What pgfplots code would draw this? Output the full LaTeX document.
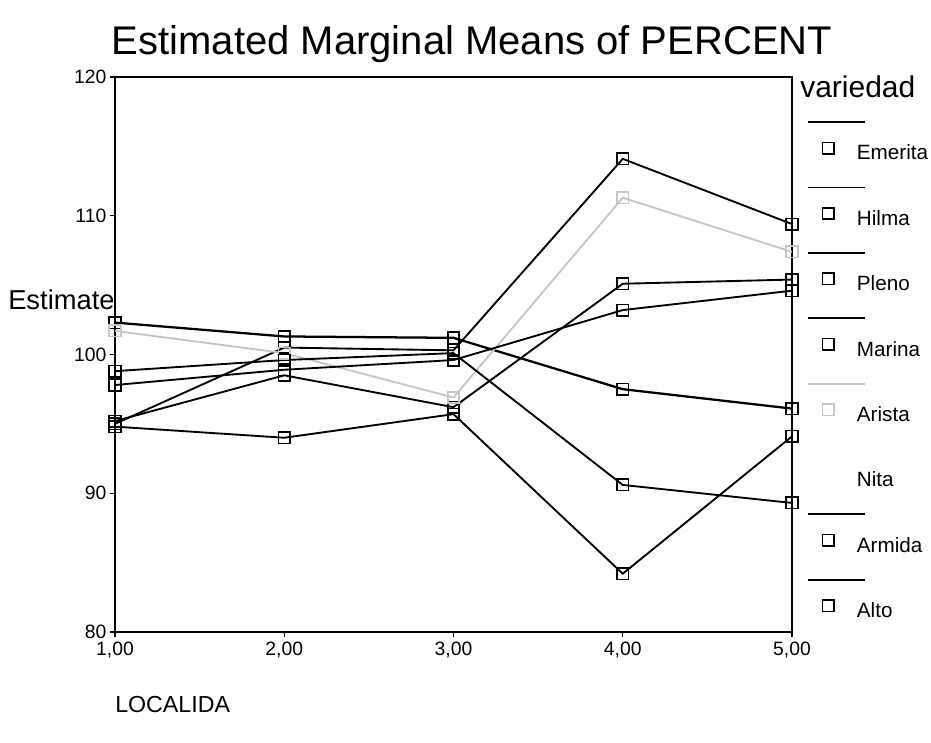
\documentclass[border=0pt]{standalone}
\usepackage{fontspec}
\setmainfont{Liberation Sans}
\usepackage{pgfplots}
\pgfplotsset{compat=1.18}
\begin{document}
\begin{tikzpicture}
\path[use as bounding box] (-86.25pt,-82.5pt) rectangle (612pt,474pt);
\pgfplotsset{ser/.style={black, line width=1.4pt, mark=square, mark size=4.3pt, mark options={solid, line width=1.2pt}}}
\node[anchor=west, inner sep=0, font=\fontsize{20.5}{24}\selectfont] at (-80.25pt,249pt) {Estimate};
\begin{axis}[
 scale only axis, width=507.75pt, height=416.25pt,
 xmin=1, xmax=5, ymin=80, ymax=120,
 xtick={1,2,3,4,5}, ytick={80,90,100,110,120},
 xtick pos=bottom, ytick pos=left, tick align=outside,
 major tick length=4pt,
 axis line style={line width=1.8pt},
 tick style={black, line width=1pt},
 /pgf/number format/assume math mode=true,
 x tick label style={/pgf/number format/.cd, use comma, fixed, fixed zerofill, precision=2},
 y tick label style={xshift=1pt},
 tick label style={font=\fontsize{14.5}{17}\selectfont},
 clip=false,
 legend cell align=left,
 legend image code/.code={
   \draw[#1, mark=none, overlay] (-15pt,23.5pt) -- (27.75pt,23.5pt);
   \path[draw=none] (-12pt,0pt) -- (19.5pt,0pt);
   \draw[#1, only marks] plot coordinates {(0pt,4pt)};
 },
 legend style={draw=none, fill=none, at={(1.0,0.83)}, anchor=north west,
   xshift=13pt, yshift=24pt,
   font=\fontsize{15.5}{18}\selectfont, row sep=32.3pt, inner xsep=2pt},
]
\addplot[ser] coordinates {(1,95.0) (2,100.5) (3,100.3) (4,114.1) (5,109.4)};
\addlegendentry{Emerita}
\addplot[ser] coordinates {(1,94.8) (2,94.0) (3,95.7) (4,84.2) (5,94.1)};
\addlegendentry{Hilma}
\addplot[ser] coordinates {(1,95.2) (2,98.5) (3,96.2) (4,105.1) (5,105.4)};
\addlegendentry{Pleno}
\addplot[ser, line width=1.7pt] coordinates {(1,102.3) (2,101.3) (3,101.2) (4,97.5) (5,96.1)};
\addlegendentry{Marina}
\addplot[ser, color=gray!45] coordinates {(1,101.7) (2,100.1) (3,96.9) (4,111.3) (5,107.4)};
\addlegendentry{Arista}
\addlegendimage{white, mark=none}
\addlegendentry{Nita}
\addplot[ser] coordinates {(1,97.8) (2,98.9) (3,99.6) (4,103.2) (5,104.6)};
\addlegendentry{Armida}
\addplot[ser] coordinates {(1,98.8) (2,99.6) (3,100.1) (4,90.6) (5,89.3)};
\addlegendentry{Alto}
\end{axis}
\node[font=\fontsize{30}{34}\selectfont] at (267.75pt,441pt) {Estimated Marginal Means of PERCENT};
\node[anchor=west, inner sep=0, font=\fontsize{22.5}{26}\selectfont] at (513.75pt,408.75pt) {variedad};
\node[anchor=west, inner sep=0, font=\fontsize{17.4}{20}\selectfont] at (0pt,-54.75pt) {LOCALIDA};
\end{tikzpicture}
\end{document}
